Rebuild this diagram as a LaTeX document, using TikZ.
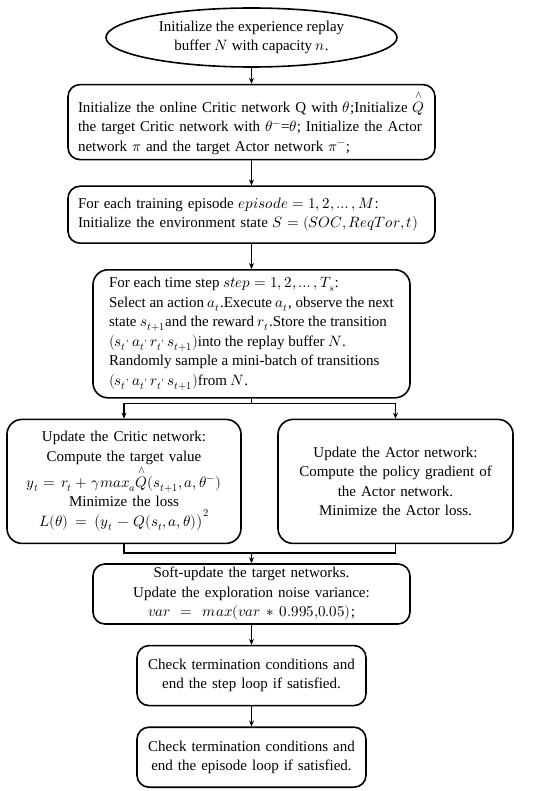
\documentclass[tikz,border=0pt]{standalone}
\usepackage{amsmath,amssymb}
\usepackage{fontspec}
\usepackage{unicode-math}
\setmainfont{Liberation Serif}
\setmathfont{Latin Modern Math}
\usepackage{tikz}
\usetikzlibrary{positioning,arrows.meta,shapes.geometric}
\tikzset{
  box/.style={draw=black, line width=1.6pt, rounded corners=12pt, fill=white,
              align=center, inner xsep=10pt, inner ysep=3pt,
              font=\fontsize{15}{19.5}\selectfont},
  startbox/.style={box, ellipse, rounded corners=0pt, inner sep=0pt,
              minimum width=291pt, minimum height=59pt},
  flow/.style={-{Stealth[length=6pt, width=5pt]}, line width=1.3pt},
  link/.style={line width=1.6pt},
}
\newcommand{\qhat}{\overset{\wedge}{Q}}
\newcommand{\tup}{(s_t{}^{,}\,a_t{}^{,}\,r_t{}^{,}\,s_{t+1})}

\begin{document}
\begin{tikzpicture}[x=1pt, y=1pt, node distance=20pt]
\useasboundingbox (0,0) rectangle (550,-791);
\node[startbox] (ell) at (251.5,-37.5) {Initialize the experience replay\\buffer $N$ with capacity $n$.};
\node[box, align=left, text width=347pt, minimum height=75pt, below=16pt of ell] (init)
  {Initialize the online Critic network Q with $\theta$;Initialize $\qhat$\\
   the target Critic network with $\theta^{-}$=$\theta$; Initialize the Actor\\
   network $\pi$ and the target Actor network $\pi^{-}$;};
\node[box, align=left, text width=347pt, minimum height=57pt, below=25pt of init] (epi)
  {For each training episode $episode=1,2,\ldots,M$:\\
   Initialize the environment state $S=(SOC,ReqTor,t)$};
\node[box, align=left, minimum width=317pt, inner xsep=11pt, inner ysep=0pt,
      minimum height=128pt, rounded corners=15pt, below=25pt of epi] (step)
  {For each time step $step=1,2,\ldots,T_s$:\\
   Select an action $a_t$.Execute $a_t$, observe the next\\
   state $s_{t+1}$and the reward $r_t$.Store the transition\\
   $\tup$into the replay buffer $N$.\\
   Randomly sample a mini-batch of transitions\\
   $\tup$from $N$.};
\coordinate[below=5pt of step] (split);
\node[box, text width=214pt, minimum height=124pt, rounded corners=15pt,
      below=20pt of step, xshift=-127.5pt] (critic)
  {Update the Critic network:\\
   Compute the target value\\
   $y_t=r_t+\gamma max_a\qhat(s_{t+1},a,\theta^{-})$\\
   Minimize the loss\\
   $L(\theta)=\bigl(y_t-Q(s_t,a,\theta)\bigr)^2$};
\node[box, text width=215pt, minimum height=124pt, rounded corners=15pt,
      below=20pt of step, xshift=144pt] (actor)
  {Update the Actor network:\\
   Compute the policy gradient of\\
   the Actor network.\\
   Minimize the Actor loss.};
\coordinate (mid) at (critic.south -| step.south);
\coordinate[below=9pt of mid] (join);
\node[box, text width=297pt, minimum height=60pt, below=19pt of mid] (soft)
  {Soft-update the target networks.\\
   Update the exploration noise variance:\\
   $var=max(var*0.995{,}0.05)$;};
\node[box, text width=209pt, minimum height=60pt, below=20pt of soft] (chk1)
  {Check termination conditions and\\end the step loop if satisfied.};
\node[box, text width=209pt, minimum height=60pt, below=20pt of chk1] (chk2)
  {Check termination conditions and\\end the episode loop if satisfied.};
% connectors
\draw[flow] (ell) -- (init);
\draw[flow] (init) -- (epi);
\draw[flow] (epi) -- (step);
\draw[link] (step) -- (split);
\draw[flow] (split) -| (critic);
\draw[flow] (split) -| (actor);
\draw[link] (critic) |- (join) -| (actor);
\draw[flow] (join) -- (soft);
\draw[flow] (soft) -- (chk1);
\draw[flow] (chk1) -- (chk2);
\end{tikzpicture}
\end{document}
